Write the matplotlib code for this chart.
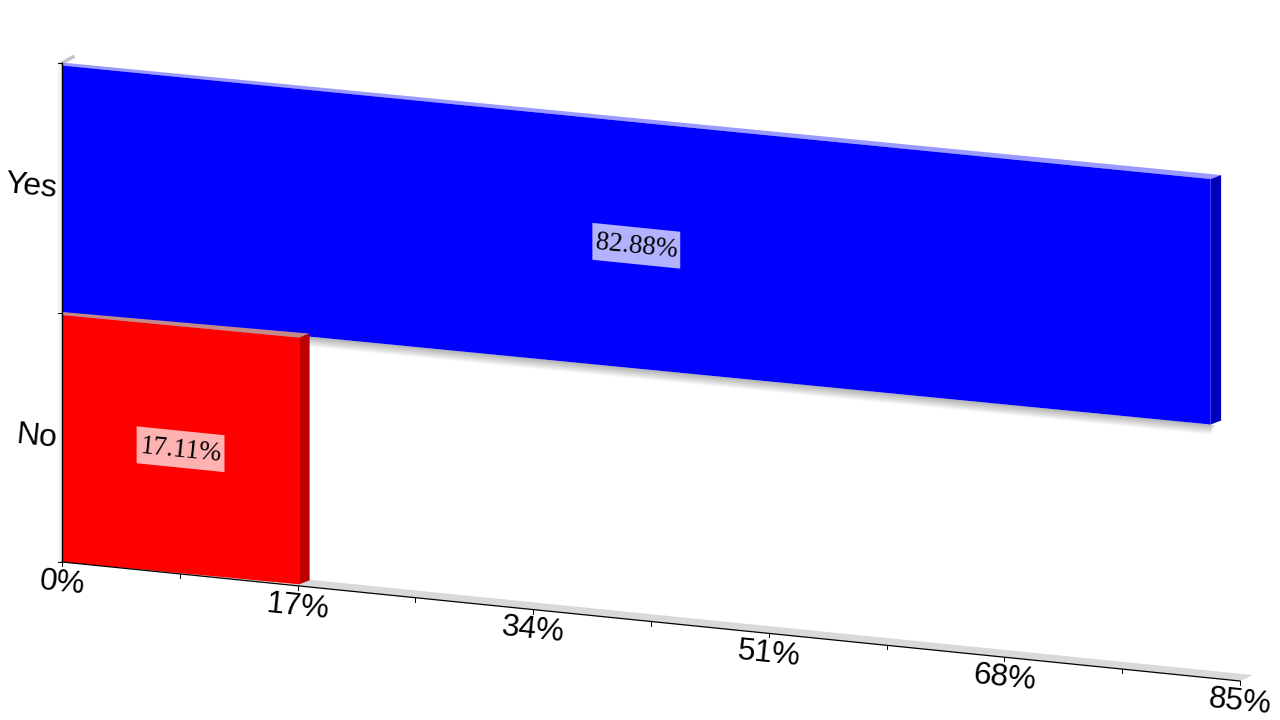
import matplotlib
matplotlib.use('Agg')
import matplotlib.pyplot as plt
from matplotlib.patches import Polygon
from matplotlib.lines import Line2D
from matplotlib.transforms import Affine2D, IdentityTransform

categories = ['No', 'Yes']
values = [17.11, 82.88]
value_labels = ['17.11%', '82.88%']
bar_colors = ['#ff0000', '#0000ff']
top_colors = ['#c48a8a', '#9999ff']
side_colors = ['#bb0000', '#0000bb']
x_ticks = [0, 17, 34, 51, 68, 85]
x_minor = [8.5, 25.5, 42.5, 59.5, 76.5]
x_tick_labels = ['0%', '17%', '34%', '51%', '68%', '85%']

plt.rcParams['font.family'] = ['Liberation Sans', 'DejaVu Sans']

fig = plt.figure(figsize=(12.8, 7.2), dpi=100)
ax = fig.add_axes([62 / 1280, (720 - 562) / 720, 1178 / 1280, 499 / 720])
ax.set_xlim(0, 85)
ax.set_ylim(-0.5, 1.5)
ax.axis('off')

# fake 3d: shear the whole plane in pixels, depth is a pixel offset
k = 119 / 1178
shear = Affine2D.from_values(1, -k, 0, 1, 0, k * 62)
front = ax.transData + shear
pix = IdentityTransform()


def axis_pt(x, y, dx=0, dy=0):
    px, py = front.transform((x, y))
    return px + dx, py + dy


def bar_pt(x, y, dx=0, dy=0):
    # bars shrink a little towards the right, slight perspective
    px, py = axis_pt(x, y)
    return px + dx, py + dy + 0.0035 * (px - 62) * (1.5 - y)


def top_pt(x, y, dx=0, dy=0):
    # front edge of a bar top sits a bit under the gridline at the left end
    px, py = bar_pt(x, y)
    return px + dx, py + dy - 2.5 * (1 - (px - 62) / 1150)


def poly(pts, z, **kw):
    ax.add_patch(Polygon(pts, closed=True, transform=pix, clip_on=False, lw=0, zorder=z, **kw))


def line(a, b, z=6, **kw):
    ax.add_line(Line2D([a[0], b[0]], [a[1], b[1]], transform=pix, clip_on=False, zorder=z, **kw))


# floor strip and the bit of back wall at the top
poly([axis_pt(0, -0.5), axis_pt(85, -0.5), axis_pt(85, -0.5, 13, 6), axis_pt(0, -0.5, 13, 6)], 1, color='#d9d9d9')
line(axis_pt(0, 1.5), axis_pt(0, 1.5, 11, 6), z=1, color='#c4c4c4', lw=2.5)

# soft shadows
for i in range(1, 11):
    end = values[1] + 0.04 * (10 - i)
    poly([bar_pt(0, 0.5), bar_pt(end, 0.5), bar_pt(end, 0.5, 0, -i), bar_pt(0, 0.5, 0, -i)], 1.5,
         color='black', alpha=0.03)
for i in range(1, 6):
    poly([axis_pt(0, -0.5), axis_pt(0, 1.5), axis_pt(0, 1.5, -i, 0), axis_pt(0, -0.5, -i, 0)], 1.5,
         color='black', alpha=0.015)

# Yes goes first so the top face of No sits on top of it
for i in [1, 0]:
    z = 3 if i == 1 else 4
    v = values[i]
    poly([top_pt(0, i + 0.5), top_pt(v, i + 0.5), top_pt(v, i + 0.5, 10.5, 4), bar_pt(0, i + 0.5, 0, 0.5)], z,
         color=top_colors[i])
    poly([bar_pt(v, i - 0.5), top_pt(v, i + 0.5), top_pt(v, i + 0.5, 10.5, 4), bar_pt(v, i - 0.5, 10.5, 4)], z,
         color=side_colors[i])
    poly([bar_pt(0, i - 0.5), bar_pt(v, i - 0.5), top_pt(v, i + 0.5), top_pt(0, i + 0.5)], z + 0.1,
         color=bar_colors[i])

# value labels on a sheared see-through box
box_w = 3.17
box_h = 0.074
for i, lab in enumerate(value_labels):
    c = values[i] / 2
    poly([axis_pt(c - box_w, i - box_h), axis_pt(c + box_w, i - box_h),
          axis_pt(c + box_w, i + box_h), axis_pt(c - box_w, i + box_h)], 5, color='white', alpha=0.7)
    tx, ty = axis_pt(c, i)
    ax.text(tx, ty - 1, lab, transform=pix, family=['Liberation Serif'], fontsize=19.4,
            ha='center', va='center', rotation=-5.77, rotation_mode='anchor', color='black',
            zorder=7, clip_on=False)

# axis lines and ticks
line(axis_pt(0, -0.5), axis_pt(85, -0.5), color='black', lw=0.9)
line(axis_pt(0, -0.5), axis_pt(0, 1.5), color='black', lw=1.0)
for t in x_ticks + x_minor:
    line(axis_pt(t, -0.5), axis_pt(t, -0.5, 0, -4), color='black', lw=0.7)
for y in [-0.5, 0.5, 1.5]:
    line(axis_pt(0, y), axis_pt(0, y, -4, 0), color='black', lw=0.7)

# tick labels
for t, lab in zip(x_ticks, x_tick_labels):
    px, py = axis_pt(t, -0.5)
    ax.text(px, py - 21, lab, transform=pix, fontsize=22.7, ha='center', va='center',
            rotation=-5.77, rotation_mode='anchor', zorder=7, clip_on=False)
for i, cat in enumerate(categories):
    px, py = axis_pt(0, i)
    ax.text(px - 5, py - 2, cat, transform=pix, fontsize=23, ha='right', va='center',
            rotation=-5.77, rotation_mode='anchor', zorder=7, clip_on=False)

fig.savefig('out.png', dpi=100)
